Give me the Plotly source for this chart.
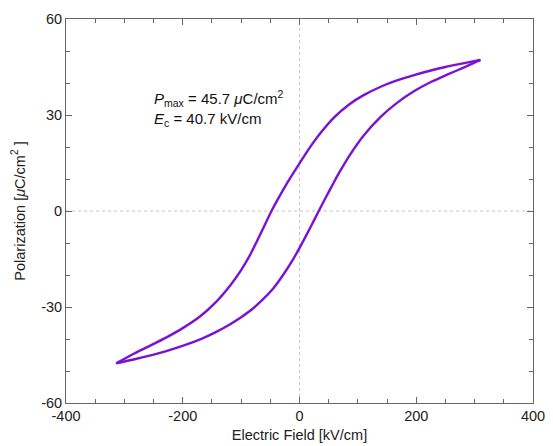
import plotly.graph_objects as go

# Upper branch (field decreasing from +Emax to -Emax)
E_up = [310, 282, 250, 225, 195, 167, 140, 110, 85, 59, 36, 19, 0, -21, -41, -48,
        -67, -84, -100, -118, -145, -170, -200, -227, -255, -284, -314]
P_up = [47.2, 46.2, 45.0, 43.9, 42.4, 40.8, 38.9, 36.2, 33.3, 29.2, 24.4, 20.2, 14.9,
        8.8, 2.4, 0.0, -7.2, -13.5, -18.5, -23.1, -28.8, -32.9, -36.6, -39.4, -42.0,
        -44.6, -47.6]

# Lower branch (field increasing from -Emax to +Emax)
E_lo = [-314, -284, -255, -227, -198, -170, -145, -118, -100, -84, -61, -45, -27, -10,
        2, 19, 33, 45, 59, 70, 87, 110, 139, 167, 196, 225, 253, 282, 310]
P_lo = [-47.6, -46.4, -45.1, -43.7, -42.0, -40.1, -38.0, -35.3, -33.2, -31.1, -27.3,
        -24.2, -19.7, -14.8, -10.9, -5.0, 0.0, 4.2, 9.0, 12.6, 17.7, 23.6, 29.4, 33.8,
        37.4, 40.3, 42.6, 44.9, 47.2]

x_ticks = [-400, -200, 0, 200, 400]
y_ticks = [-60, -30, 0, 30, 60]

color = "#7a12d6"
font = "Liberation Sans, Arial, Helvetica, sans-serif"

fig = go.Figure()
for ex, py in ((E_up, P_up), (E_lo, P_lo)):
    fig.add_trace(go.Scatter(x=ex, y=py, mode="lines",
                             line=dict(color=color, width=2.4, shape="spline", smoothing=0.6),
                             showlegend=False))

# dotted zero lines
fig.add_shape(type="line", xref="x", yref="y", x0=0, x1=0, y0=-60, y1=60,
              line=dict(color="#c4c4c4", width=1, dash="dot"), layer="below")
fig.add_shape(type="line", xref="x", yref="y", x0=-400, x1=400, y0=0, y1=0,
              line=dict(color="#c4c4c4", width=1, dash="dot"), layer="below")

fig.add_annotation(
    x=-252, y=39.0, xref="x", yref="y", xanchor="left", yanchor="top",
    text="<i>P</i><sub>max</sub> = 45.7 <i>μ</i>C/cm<sup>2</sup><br><i>E</i><sub>c</sub> = 40.7 kV/cm",
    showarrow=False, align="left", font=dict(family=font, size=15, color="#111"))

axis_common = dict(
    showline=True, linecolor="#666", linewidth=1, mirror="ticks", automargin=False,
    ticks="inside", ticklen=6, tickcolor="#666", showgrid=False, zeroline=False,
    tickfont=dict(family=font, size=14.5, color="#222"),
)
fig.update_xaxes(range=[-400, 400], tickvals=x_ticks, ticktext=[str(v) for v in x_ticks],
                 minor=dict(dtick=50, ticks="inside", ticklen=4, tickcolor="#666"),
                 title=dict(text="Electric Field [kV/cm]", standoff=6,
                            font=dict(family=font, size=14.5, color="#222")),
                 **axis_common)
fig.update_yaxes(range=[-60, 60], tickvals=y_ticks, ticktext=[str(v) for v in y_ticks],
                 minor=dict(dtick=10, ticks="inside", ticklen=4, tickcolor="#666"),
                 title=dict(text="Polarization [<i>μ</i>C/cm<sup>2</sup> ]", standoff=12,
                            font=dict(family=font, size=14.5, color="#222")),
                 **axis_common)

# page body has an 8px margin, so the figure is shrunk by 8px and margins shifted
fig.update_layout(width=545, height=438, margin=dict(l=58, r=20, t=11, b=43),
                  plot_bgcolor="white", paper_bgcolor="white")

fig.write_html("out.html")
